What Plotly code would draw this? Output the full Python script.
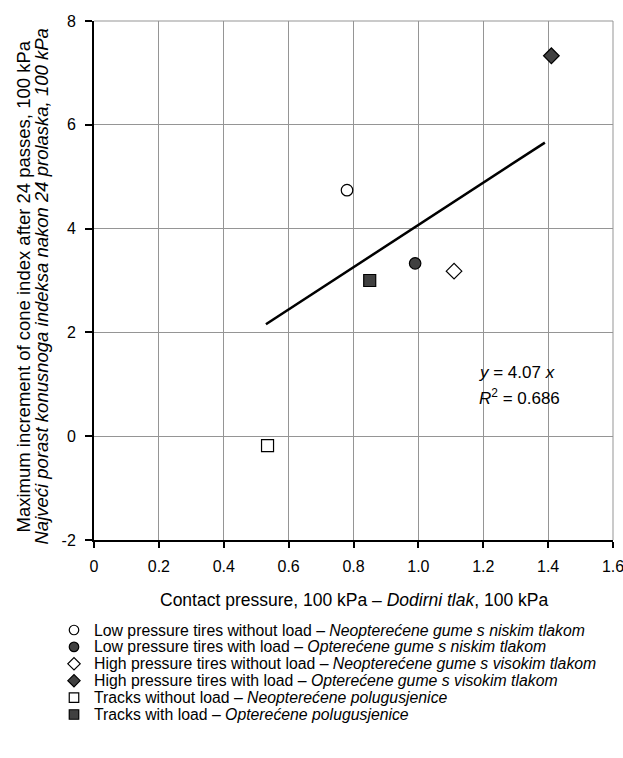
import plotly.graph_objects as go

# ---- data ----
series_en = [
    "Low pressure tires without load",
    "Low pressure tires with load",
    "High pressure tires without load",
    "High pressure tires with load",
    "Tracks without load",
    "Tracks with load",
]
series_hr = [
    "Neopterećene gume s niskim tlakom",
    "Opterećene gume s niskim tlakom",
    "Neopterećene gume s visokim tlakom",
    "Opterećene gume s visokim tlakom",
    "Neopterećene polugusjenice",
    "Opterećene polugusjenice",
]
contact_pressure = [0.78, 0.99, 1.11, 1.41, 0.535, 0.85]
cone_index_increment = [4.74, 3.33, 3.18, 7.33, -0.18, 3.0]
symbols = ["circle-open", "circle", "diamond-open", "diamond", "square-open", "square"]

fit_slope = 4.07
fit_r2 = 0.686
fit_x = [0.53, 1.39]
fit_y = [fit_slope * v for v in fit_x]

x_tickvals = [0, 0.2, 0.4, 0.6, 0.8, 1.0, 1.2, 1.4, 1.6]
x_ticktext = ["0", "0.2", "0.4", "0.6", "0.8", "1.0", "1.2", "1.4", "1.6"]
y_tickvals = [-2, 0, 2, 4, 6, 8]
y_ticktext = ["-2", "0", "2", "4", "6", "8"]

FONT = "Liberation Sans, Arial, sans-serif"
DARK = "#404040"
GRID = "#959595"
CLEAR = "rgba(0,0,0,0)"

W, H = 623, 758
# plot-area box in page pixels
PL, PR, PT, PB = 94, 613, 21, 540
x_dom = [PL / W, PR / W]
y_dom = [(H - PB) / H, (H - PT) / H]

# legend layout (page pixels, on a full-page overlay axis)
LEG_MARK_X, LEG_TEXT_X = 74, 92
LEG_FIRST_Y, LEG_STEP = 630, 16.9

fig = go.Figure()

fig.add_trace(go.Scatter(
    x=fit_x, y=fit_y, mode="lines",
    line=dict(color="black", width=2.5),
    showlegend=False, hoverinfo="skip",
))

def marker_style(sym, big):
    base = sym.replace("-open", "")
    filled = not sym.endswith("open")
    if base == "diamond":
        size = 12 if big else 9.5
    elif base == "circle":
        size = 11.5 if big else 9.5
    else:
        size = 12 if big else 9.5
    return dict(symbol=base, size=size,
                color=DARK if filled else "white",
                line=dict(color="black", width=1.2))

for en, xv, yv, sym in zip(series_en, contact_pressure, cone_index_increment, symbols):
    fig.add_trace(go.Scatter(
        x=[xv], y=[yv], mode="markers", name=en,
        marker=marker_style(sym, True), showlegend=False,
    ))

# custom legend: markers on a hidden full-page axis, texts as annotations
for i, (en, hr, sym) in enumerate(zip(series_en, series_hr, symbols)):
    row_y = LEG_FIRST_Y + LEG_STEP * i
    fig.add_trace(go.Scatter(
        x=[LEG_MARK_X], y=[row_y], mode="markers", xaxis="x2", yaxis="y2",
        marker=marker_style(sym, False), showlegend=False,
        hoverinfo="skip",
    ))
    fig.add_annotation(
        x=LEG_TEXT_X, y=row_y, xref="x2", yref="y2", xanchor="left", yanchor="middle",
        text=f"{en} – <i>{hr}</i>", showarrow=False,
        font=dict(family=FONT, size=15.8, color="black"),
    )

fig.add_annotation(
    x=1.18, y=1.22, xref="x", yref="y", xanchor="left", yanchor="middle",
    text="<i>y</i> = 4.07 <i>x</i>", showarrow=False,
    font=dict(family=FONT, size=17, color="black"),
)
fig.add_annotation(
    x=1.18, y=0.76, xref="x", yref="y", xanchor="left", yanchor="middle",
    text="<i>R</i><sup>2</sup> = 0.686", showarrow=False,
    font=dict(family=FONT, size=17, color="black"),
)

# axis titles as annotations (page pixel positions on overlay axis)
fig.add_annotation(
    x=(PL + PR) / 2, y=600, xref="x2", yref="y2",
    xanchor="center", yanchor="middle", showarrow=False,
    text="Contact pressure, 100 kPa – <i>Dodirni tlak</i>, 100 kPa",
    font=dict(family=FONT, size=17.5, color="black"),
)
fig.add_annotation(
    x=23, y=(PT + PB) / 2 + 6, xref="x2", yref="y2",
    xanchor="center", yanchor="middle", textangle=-90, showarrow=False,
    text="Maximum increment of cone index after 24 passes, 100 kPa",
    font=dict(family=FONT, size=18.5, color="black"),
)
fig.add_annotation(
    x=41, y=(PT + PB) / 2 + 6, xref="x2", yref="y2",
    xanchor="center", yanchor="middle", textangle=-90, showarrow=False,
    text="<i>Najveći porast konusnoga indeksa nakon 24 prolaska, 100 kPa</i>",
    font=dict(family=FONT, size=18.5, color="black"),
)

fig.update_layout(
    width=W, height=H,
    margin=dict(l=0, r=0, t=0, b=0, pad=0, autoexpand=False),
    paper_bgcolor="white", plot_bgcolor=CLEAR,
    font=dict(family=FONT, size=15, color="black"),
    showlegend=False,
    xaxis=dict(
        domain=x_dom, anchor="y",
        range=[0, 1.6], tickvals=x_tickvals, ticktext=x_ticktext,
        showgrid=True, gridcolor=GRID, gridwidth=1,
        showline=True, linecolor="black", linewidth=2,
        ticks="outside", ticklen=6, tickwidth=1.5, tickcolor="black",
        zeroline=False, automargin=False,
        ticklabeloverflow="allow", ticklabelstandoff=5,
        tickfont=dict(family=FONT, size=16),
    ),
    yaxis=dict(
        domain=y_dom, anchor="x",
        range=[-2, 8], tickvals=y_tickvals, ticktext=y_ticktext,
        showgrid=True, gridcolor=GRID, gridwidth=1,
        showline=True, linecolor="black", linewidth=2,
        ticks="outside", ticklen=7, tickwidth=1.5, tickcolor="black",
        zeroline=False, automargin=False,
        ticklabelstandoff=6,
        tickfont=dict(family=FONT, size=16),
    ),
    xaxis2=dict(domain=[0, 1], anchor="y2", range=[0, W],
                visible=False, fixedrange=True, showgrid=False),
    yaxis2=dict(domain=[0, 1], anchor="x2", range=[H, 0],
                visible=False, fixedrange=True, showgrid=False),
)

# outer frame top/right as grey lines
fig.add_shape(type="line", xref="x domain", yref="y domain", x0=0, x1=1, y0=1, y1=1,
              line=dict(color=GRID, width=1))
fig.add_shape(type="line", xref="x domain", yref="y domain", x0=1, x1=1, y0=0, y1=1,
              line=dict(color=GRID, width=1))

fig.write_html(
    "out.html",
    config={"displayModeBar": False},
    post_script="document.body.style.margin='0';document.body.style.overflow='hidden';",
)
